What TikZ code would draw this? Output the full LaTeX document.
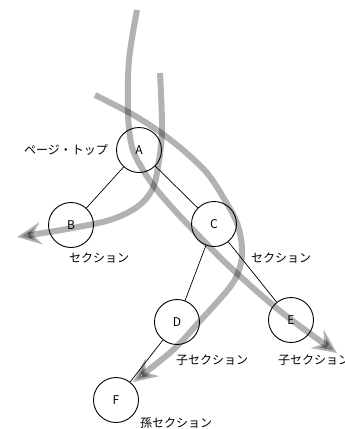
\documentclass[tikz,border=0pt]{standalone}
\usepackage{fontspec}
\setmainfont{Noto Sans CJK JP}
\usetikzlibrary{arrows.meta}
\begin{document}
\begin{tikzpicture}[x=1pt,y=-1pt,
  every node/.style={font=\fontsize{12}{14}\selectfont},
  nodecircle/.style={circle,draw=black,line width=0.9pt,minimum size=45pt,inner sep=0pt,fill=none},
  treeedge/.style={draw=black,line width=0.7pt},
  flow/.style={draw=black,draw opacity=0.3,fill opacity=0.3,line width=6pt,
    -{Stealth[length=24pt,width=22pt,inset=8pt]}},
  lbl/.style={inner sep=0pt}]
\useasboundingbox (0,0) rectangle (345,429);

\node[nodecircle] (A) at (139,150) {A};
\node[nodecircle] (B) at (71,225) {B};
\node[nodecircle] (C) at (214,224) {C};
\node[nodecircle] (D) at (177,322) {D};
\node[nodecircle] (E) at (291,320) {E};
\node[nodecircle] (F) at (116,400) {F};

\draw[treeedge] (A) -- (B);
\draw[treeedge] (A) -- (C);
\draw[treeedge] (C) -- (D);
\draw[treeedge] (C) -- (E);
\draw[treeedge] (D) -- (F);

\node[lbl] (lA) at (66,150) {ページ・トップ};
\node[lbl] (lB) at (99,258) {セクション};
\node[lbl] (lC) at (281,258) {セクション};
\node[lbl] (lD) at (212,360) {子セクション};
\node[lbl] (lE) at (314,360) {子セクション};
\node[lbl] (lF) at (176,423) {孫セクション};

% flow curves
\draw[flow] plot[smooth,tension=0.55] coordinates {(137,10) (129,60) (128,113) (132,147) (143,170) (157,190) (177,213) (200,237) (230,267) (280,311) (337,353)};
\draw[flow] plot[smooth,tension=0.55] coordinates {(160,73) (162,130) (158,167) (152,190) (137,207) (110,220) (67,229) (17,237)};
\draw[flow] plot[smooth,tension=0.55] coordinates {(95,95) (130,113) (157,130) (183,150) (207,173) (223,197) (237,223) (242,247) (240,267) (230,287) (200,321) (173,350) (133,382)};
\end{tikzpicture}
\end{document}
